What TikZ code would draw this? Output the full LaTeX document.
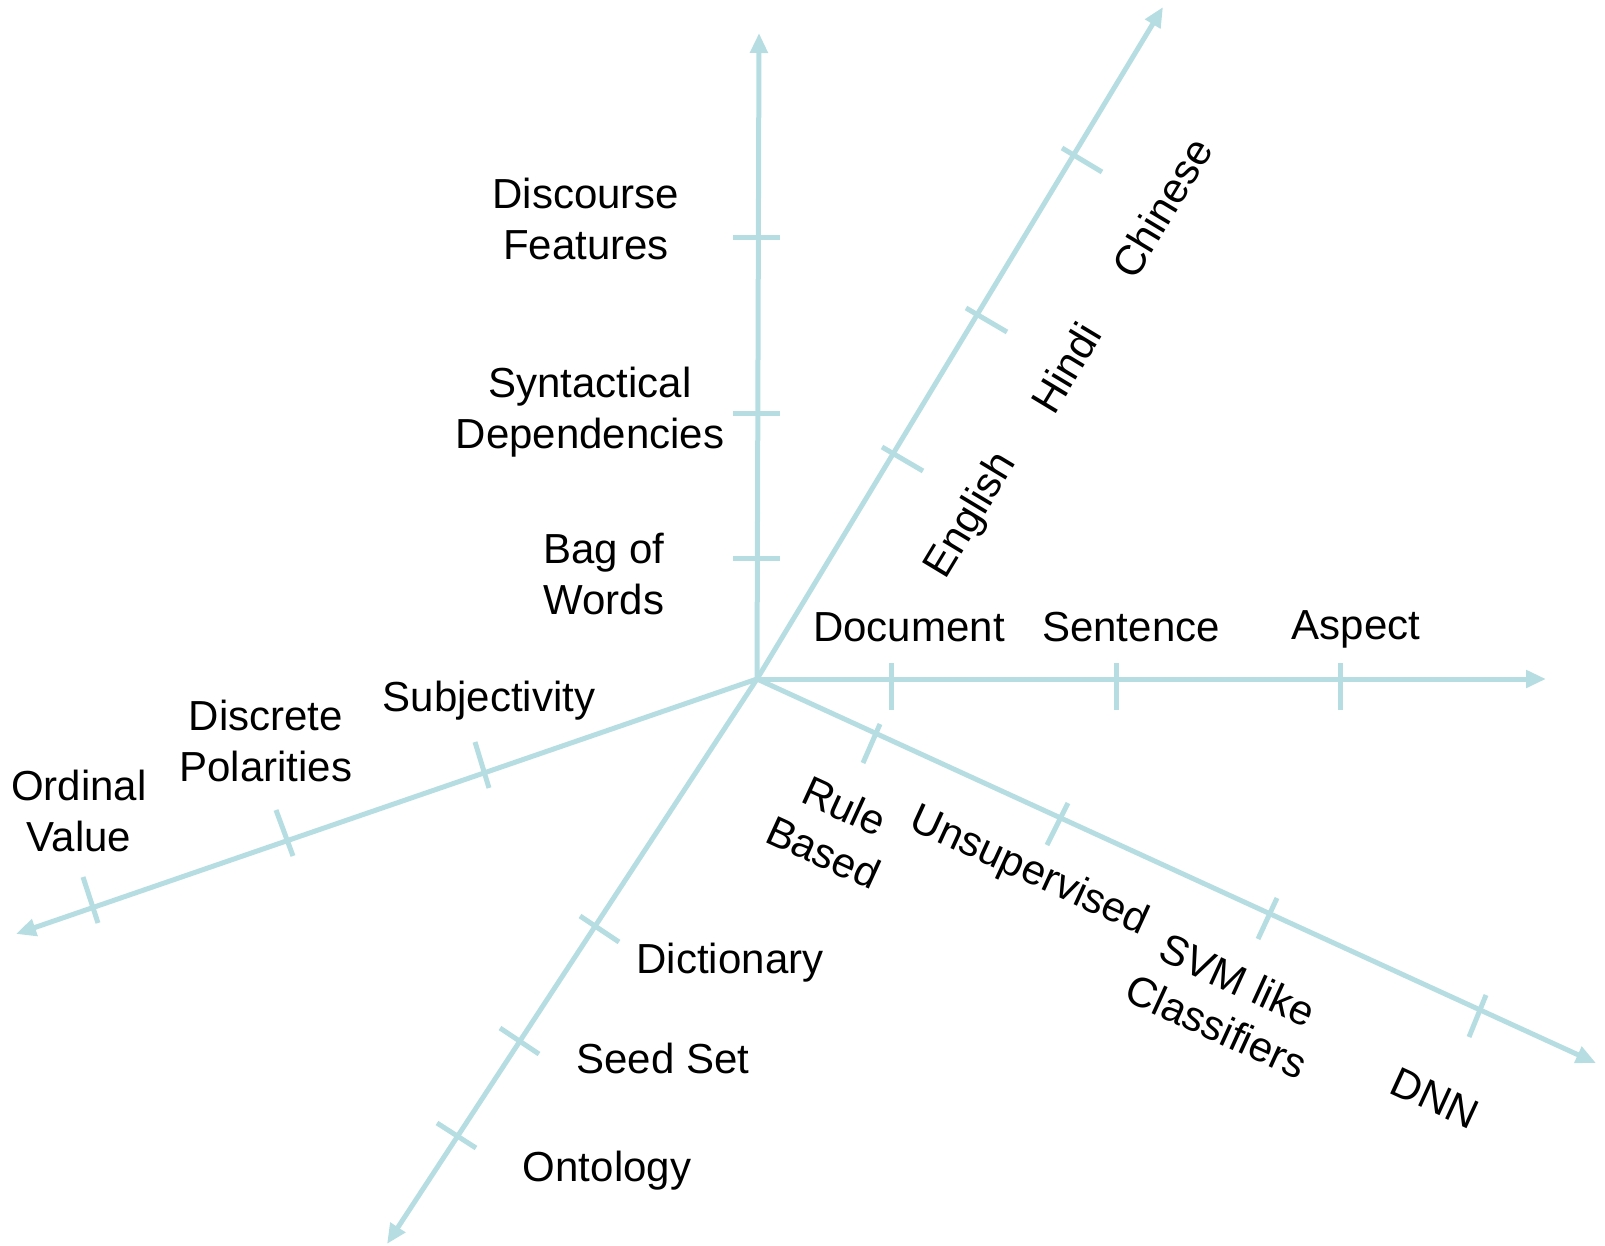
\documentclass[tikz,border=0pt]{standalone}
\usepackage{fontspec}
\setmainfont{Liberation Sans}
\usetikzlibrary{arrows.meta}
\definecolor{axiscol}{RGB}{182,222,226}
\begin{document}
\begin{tikzpicture}[x=0.5pt,y=-0.5pt,
  axisline/.style={draw=axiscol,line width=2.5pt,-{Triangle[length=10pt,width=8.5pt]}},
  tickline/.style={draw=axiscol,line width=2.5pt},
  lbl/.style={font=\fontsize{21pt}{25.5pt}\selectfont,align=center,inner sep=0pt,text=black}]
\useasboundingbox (0,0) rectangle (1605,1246);
% axis end points
\coordinate (O) at (757,679);
\coordinate (up) at (759,33);
\coordinate (ur) at (1163,7);
\coordinate (rt) at (1546,679);
\coordinate (dr) at (1596,1063);
\coordinate (dl) at (387,1244);
\coordinate (lf) at (16,934);
\draw[axisline] (O) -- (up);
\draw[axisline] (O) -- (ur);
\draw[axisline] (O) -- (rt);
\draw[axisline] (O) -- (dr);
\draw[axisline] (O) -- (dl);
\draw[axisline] (O) -- (lf);
% ticks: vertical axis
\draw[tickline] (733,237.5) -- (780,237.5);
\draw[tickline] (733,413.5) -- (780,413.5);
\draw[tickline] (733,558) -- (780,558);
% ticks: upper-right axis
\draw[tickline] (1062,148) -- (1102,172);
\draw[tickline] (966,308) -- (1007,332);
\draw[tickline] (882,447) -- (923,471);
% ticks: right axis
\draw[tickline] (891.5,663) -- (891.5,710);
\draw[tickline] (1116,663) -- (1116,710);
\draw[tickline] (1340,663) -- (1340,710);
% ticks: down-right axis
\draw[tickline] (880,724) -- (863,763);
\draw[tickline] (1068,803) -- (1047,845);
\draw[tickline] (1277,898) -- (1258,939);
\draw[tickline] (1486,995) -- (1469,1037);
% ticks: down-left axis
\draw[tickline] (580,916) -- (619,942);
\draw[tickline] (500,1028) -- (539,1054);
\draw[tickline] (437,1123) -- (476,1148);
% ticks: left axis
\draw[tickline] (475,742) -- (489,788);
\draw[tickline] (276,810) -- (293,856);
\draw[tickline] (83,877) -- (98,923);
% labels: vertical axis
\node[lbl] (disc) at (586,219) {Discourse\\Features};
\node[lbl] (synt) at (590,412) {Syntactical\\Dependencies};
\node[lbl] (bag) at (604,574) {Bag of\\Words};
% labels: right axis
\node[lbl] (doc) at (909,627) {Document};
\node[lbl] (sen) at (1131,627) {Sentence};
\node[lbl] (asp) at (1356,629) {Aspect};
% labels: upper-right axis
\node[lbl,rotate=58.9] (eng) at (972,516) {English};
\node[lbl,rotate=58.9] (hin) at (1066,368) {Hindi};
\node[lbl,rotate=58.9] (chi) at (1162,208) {Chinese};
% labels: left axis
\node[lbl] (subj) at (489,701) {Subjectivity};
\node[lbl] (dpol) at (266,741) {Discrete\\Polarities};
\node[lbl] (ord) at (79,811) {Ordinal\\Value};
% labels: down-right axis
\node[lbl,rotate=-24.6] (rule) at (834,829) {Rule\\Based};
\node[lbl,rotate=-24.6] (unsup) at (1029,872) {Unsupervised};
\node[lbl,rotate=-24.6] (svm) at (1227,1003) {SVM like\\Classifiers};
\node[lbl,rotate=-24.6] (dnn) at (1435,1098) {DNN};
% labels: down-left axis
\node[lbl] (dict) at (730,963) {Dictionary};
\node[lbl] (seed) at (663,1058) {Seed Set};
\node[lbl] (onto) at (607,1171) {Ontology};
\end{tikzpicture}
\end{document}
